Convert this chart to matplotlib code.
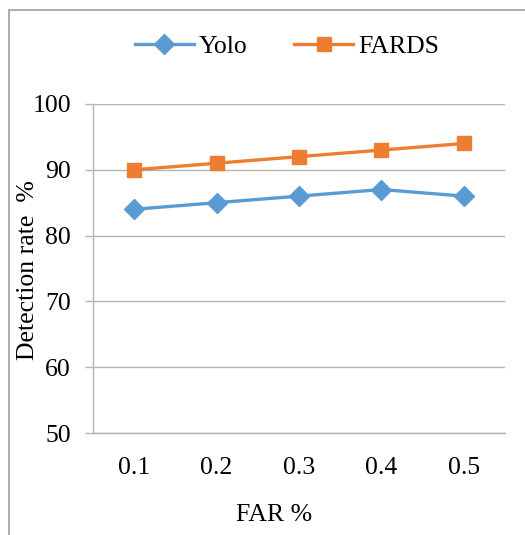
import matplotlib
matplotlib.use("Agg")
import matplotlib.pyplot as plt
from matplotlib.patches import Rectangle

categories = ["0.1", "0.2", "0.3", "0.4", "0.5"]
yolo = [84, 85, 86, 87, 86]
fards = [90, 91, 92, 93, 94]
yticks = [50, 60, 70, 80, 90, 100]

plt.rcParams['font.family'] = ['Liberation Serif', 'DejaVu Serif']
FS = 18.5

W, H = 525, 535
fig = plt.figure(figsize=(W / 100, H / 100), dpi=100)
fig.patch.set_facecolor('white')

# outer chart border
fig.patches.append(Rectangle((9 / W, -0.05), 1.2, 1 - 10 / H + 0.05,
                             transform=fig.transFigure, fill=False,
                             edgecolor='#a6a6a6', linewidth=1.3, zorder=0))

ax = fig.add_axes([93 / W, 1 - 433 / H, (505 - 93) / W, (433 - 104) / H])
x = range(len(categories))
ax.plot(x, yolo, color='#5B9BD5', linewidth=2.4, marker='D', markersize=10,
        label='Yolo', zorder=3)
ax.plot(x, fards, color='#ED7D31', linewidth=2.4, marker='s', markersize=9.5,
        label='FARDS', zorder=3)

ax.set_xlim(-0.5, len(categories) - 0.5)
ax.set_ylim(50, 100)
ax.set_yticks(yticks)
ax.set_xticks(list(x))
ax.set_xticklabels(categories)
ax.yaxis.grid(True, color='#b3b3b3', linewidth=1.0)
ax.set_axisbelow(True)
for s in ['top', 'right']:
    ax.spines[s].set_visible(False)
for s in ['left', 'bottom']:
    ax.spines[s].set_color('#b3b3b3')
    ax.spines[s].set_linewidth(1.0)
ax.tick_params(axis='y', length=5.8, width=1.0, color='#b3b3b3', labelsize=FS, pad=10)
ax.tick_params(axis='x', length=0, labelsize=FS, pad=17)

fig.text(28 / W, 1 - 270 / H, 'Detection rate  %', rotation=90, ha='center',
         va='center', fontsize=FS)
fig.text(274 / W, 1 - 515 / H, 'FAR %', ha='center', va='center', fontsize=FS)

leg = ax.legend(loc='center', bbox_to_anchor=(287 / W, 1 - 47 / H),
                bbox_transform=fig.transFigure, ncol=2, frameon=False,
                fontsize=FS, handlelength=2.3, handletextpad=0.2,
                columnspacing=1.8)

fig.savefig('out.png', dpi=100, facecolor='white')
